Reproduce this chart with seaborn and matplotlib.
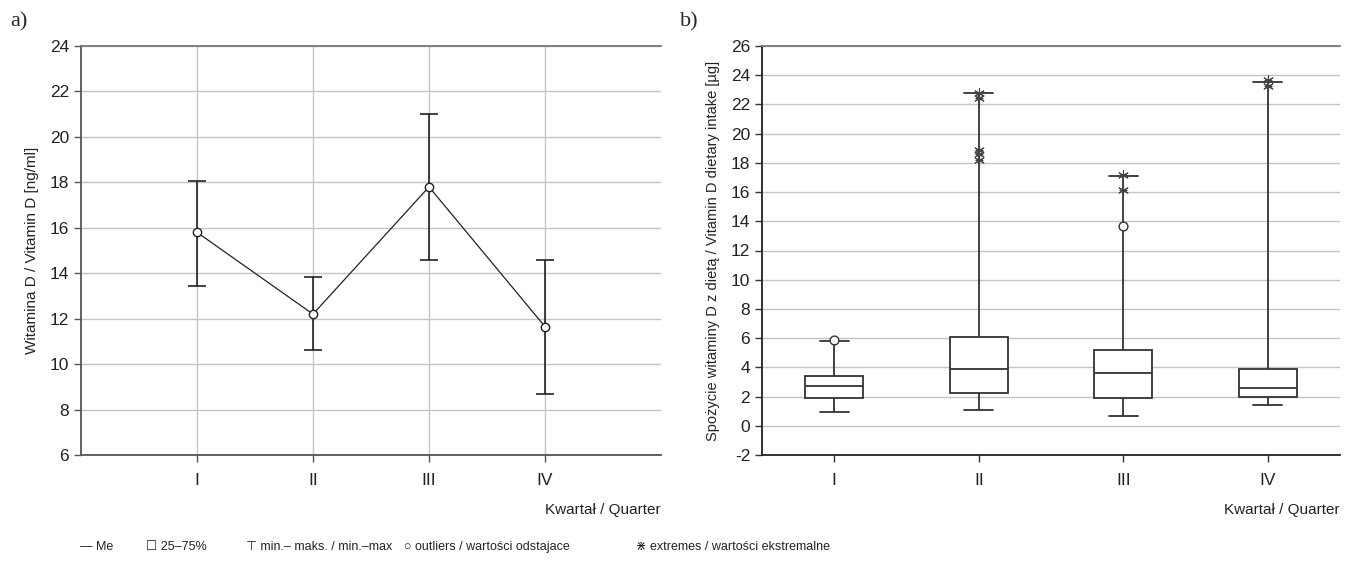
import numpy as np
import pandas as pd
import matplotlib
matplotlib.use("Agg")
import matplotlib.pyplot as plt
import seaborn as sns
from matplotlib import font_manager

# ---------------- data ----------------
quarters = ["I", "II", "III", "IV"]

# panel a: mean vitamin D with min-max range
a_mean = [15.8, 12.2, 17.8, 11.65]
a_low = [13.45, 10.6, 14.6, 8.7]
a_high = [18.07, 13.85, 21.0, 14.6]

# panel b: box statistics
b_min = [0.94, 1.1, 0.68, 1.45]
b_q1 = [1.9, 2.24, 1.9, 1.97]
b_med = [2.72, 3.92, 3.63, 2.58]
b_q3 = [3.42, 6.08, 5.18, 3.86]
b_max = [5.8, 22.78, 17.1, 23.56]

outlier_q = ["I", "III"]
outlier_v = [5.85, 13.65]
extreme_q = ["II", "II", "II", "II", "II", "III", "III", "IV", "IV"]
extreme_v = [22.8, 22.45, 18.85, 18.6, 18.2, 17.15, 16.15, 23.65, 23.25]

# ---------------- style ----------------
sns.set_theme(style="white")
names = {f.name for f in font_manager.fontManager.ttflist}
narrow = "Liberation Sans Narrow" if "Liberation Sans Narrow" in names else "Liberation Sans"
plt.rcParams["font.family"] = [narrow, "DejaVu Sans"]
plt.rcParams["axes.unicode_minus"] = False

fig = plt.figure(figsize=(13.45, 5.66), dpi=100)
W, H = 1345, 566
def rect(l, r, t, b):
    return [l / W, 1 - b / H, (r - l) / W, (b - t) / H]

axa = fig.add_axes(rect(81, 661, 46, 455))
axb = fig.add_axes(rect(762, 1340, 46, 455))

tick_fs = 12.5
grid_c = "#c4c4c4"
dark = "#333333"
txt_c = "#222222"

# ---------------- panel a ----------------
pos_a = np.arange(1, len(quarters) + 1)
dfa = pd.DataFrame({"pos": pos_a, "mean": a_mean})
mean_arr = np.array(a_mean)
axa.errorbar(pos_a, mean_arr,
             yerr=[mean_arr - np.array(a_low), np.array(a_high) - mean_arr],
             fmt="none", ecolor="#222222", elinewidth=1.2, capsize=6.5, capthick=1.2, zorder=3)
sns.lineplot(data=dfa, x="pos", y="mean", ax=axa, color="#222222", linewidth=0.9,
             marker="o", markersize=6, markerfacecolor="white", markeredgecolor="#222222",
             markeredgewidth=1.0, zorder=4)
axa.set_xlim(0, 5)
axa.set_ylim(6, 24)
axa.set_yticks(np.arange(6, 25, 2))
axa.set_xticks(pos_a)
axa.set_xticklabels(quarters)
axa.grid(True, color=grid_c, linewidth=1.0)
axa.set_axisbelow(True)
axa.set_xlabel("")
axa.set_ylabel("Witamina D / Vitamin D [ng/ml]", fontsize=11, color=txt_c, labelpad=8)
for s in ["left", "bottom"]:
    axa.spines[s].set_color("#555555")
    axa.spines[s].set_linewidth(1.3)
axa.spines["top"].set_color("#777777")
axa.spines["top"].set_linewidth(1.3)
axa.spines["right"].set_visible(False)
axa.tick_params(axis="both", which="both", length=5, width=1, color="#555555",
                labelsize=tick_fs, labelcolor=txt_c, direction="out", left=True, bottom=True)
axa.tick_params(axis="x", pad=8)
axa.text(1.0, -0.134, "Kwartał / Quarter", transform=axa.transAxes, ha="right", va="center",
         fontsize=11, color=txt_c)

# ---------------- panel b ----------------
rows = []
for i, q in enumerate(quarters):
    for v in (b_min[i], b_q1[i], b_med[i], b_q3[i], b_max[i]):
        rows.append({"quarter": q, "value": v})
dfb = pd.DataFrame(rows)
sns.boxplot(data=dfb, x="quarter", y="value", order=quarters, ax=axb, width=0.4,
            whis=(0, 100), fliersize=0, color="white", linecolor=dark, linewidth=1.3,
            zorder=3)
pos_map = {q: i for i, q in enumerate(quarters)}
sns.scatterplot(x=[pos_map[q] for q in outlier_q], y=outlier_v, ax=axb, marker="o",
                s=40, facecolor="white", edgecolor=dark, linewidth=1.0, zorder=5)
sns.scatterplot(x=[pos_map[q] for q in extreme_q], y=extreme_v, ax=axb, marker=(6, 2, 0),
                s=50, color="#444444", linewidth=0.8, zorder=5)
sns.scatterplot(x=[pos_map[q] for q in extreme_q], y=extreme_v, ax=axb, marker="_",
                s=35, color="#444444", linewidth=0.8, zorder=5)
axb.set_xlim(-0.5, 3.5)
axb.set_ylim(-2, 26)
axb.set_yticks(np.arange(-2, 27, 2))
axb.yaxis.grid(True, color=grid_c, linewidth=1.0)
axb.xaxis.grid(False)
axb.set_axisbelow(True)
axb.set_xlabel("")
axb.set_ylabel("Spożycie witaminy D z dietą / Vitamin D dietary intake [µg]", fontsize=10.5,
               color=txt_c, labelpad=8)
for s in ["left", "bottom"]:
    axb.spines[s].set_color("#222222")
    axb.spines[s].set_linewidth(1.3)
axb.spines["top"].set_color("#777777")
axb.spines["top"].set_linewidth(1.3)
axb.spines["right"].set_visible(False)
axb.tick_params(axis="both", which="both", length=5, width=1, color="#333333",
                labelsize=tick_fs, labelcolor=txt_c, direction="out", left=True, bottom=True)
axb.tick_params(axis="x", pad=8)
axb.text(1.0, -0.134, "Kwartał / Quarter", transform=axb.transAxes, ha="right", va="center",
         fontsize=11, color=txt_c)

# ---------------- panel letters ----------------
fig.text(10 / W, 1 - 22 / H, "a)", fontsize=16, family="Liberation Serif", va="center", ha="left")
fig.text(680 / W, 1 - 22 / H, "b)", fontsize=16, family="Liberation Serif", va="center", ha="left")

# ---------------- legend line ----------------
ly = 1 - 547 / H
leg_items = [(80, "— Me"), (146, "☐ 25–75%"), (246, "⊤ min.– maks. / min.–max"),
             (404, "○ outliers / wartości odstajace"), (636, "⋇ extremes / wartości ekstremalne")]
for x, t in leg_items:
    fig.text(x / W, ly, t, fontsize=9, color=txt_c, va="center", ha="left")

fig.savefig("out.png", dpi=100)
